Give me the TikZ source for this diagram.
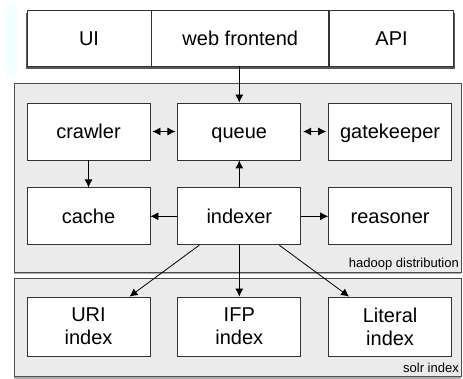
\documentclass[tikz,border=0pt]{standalone}
\usepackage{fontspec}
\setmainfont{Liberation Sans}
\usetikzlibrary{arrows.meta, positioning, shadows, backgrounds}
\definecolor{panelgray}{HTML}{EBEBEB}
\definecolor{lightcyan}{HTML}{F0FFFF}
\tikzstyle{block} = [rectangle, draw=black!80, fill=white, line width=0.8pt, minimum width=123pt, minimum height=57pt, text centered, inner sep=0pt, text height=14.5pt, text depth=0pt, font=\fontsize{20}{23}\selectfont]
\tikzstyle{idxblock} = [rectangle, draw=black!80, fill=white, line width=0.8pt, minimum width=123pt, minimum height=59pt, align=center, inner sep=0pt, font=\fontsize{20}{23}\selectfont]
\tikzstyle{cell} = [block, minimum height=56pt]
\tikzstyle{panel} = [draw=black!70, fill=panelgray, line width=0.8pt, drop shadow={shadow xshift=-0.5pt, shadow yshift=-2.5pt, fill=black!65}]
\tikzstyle{tag} = [font=\fontsize{13}{15}\selectfont, inner sep=0pt]
\tikzstyle{connector} = [draw, line width=0.8pt, -{Latex[length=8pt, width=8pt]}]
\tikzstyle{biconnector} = [draw, line width=0.8pt, {Latex[length=8pt, width=8pt]}-{Latex[length=8pt, width=8pt]}]

\begin{document}
\begin{tikzpicture}[x=1pt, y=-1pt, node distance=27pt and 27pt]
    \useasboundingbox (0,0) rectangle (463,379);
    \fill [lightcyan] (6,4) rectangle (17,77);

    % Panels
    \draw [panel] (14,83) rectangle (461,272);
    \draw [panel] (14,278) rectangle (461,376);
    \node [tag, anchor=base east] (hadoop) at (459,268) {hadoop distribution};
    \node [tag, anchor=base east] (solr) at (459,372.5) {solr index};

    % Front end bar
    \node [cell, minimum width=124pt] (ui) at (89,38) {UI};
    \node [cell, minimum width=177pt, right=0pt of ui] (web) {web frontend};
    \node [cell, minimum width=124pt, right=0pt of web] (api) {API};
    \begin{scope}[on background layer]
        \fill [black!65] ([shift={(-0.5pt,-3pt)}]ui.north west) rectangle ([shift={(0.5pt,-3pt)}]api.south east);
    \end{scope}

    % Nodes
    \node [block] (crawler) at (88.5,131.5) {crawler};
    \node [block, right=of crawler] (queue) {queue};
    \node [block, right=of queue] (gatekeeper) {gatekeeper};
    \node [block, below=of crawler] (cache) {cache};
    \node [block, right=of cache] (indexer) {indexer};
    \node [block, right=of indexer] (reasoner) {reasoner};
    \node [idxblock] (uri) at (88.5,326.5) {URI\\index};
    \node [idxblock, right=of uri] (ifp) {IFP\\index};
    \node [idxblock, right=of ifp] (literal) {Literal\\index};

    % Arrows
    \path [connector] (web.south -| queue.north) -- (queue.north);
    \path [biconnector] ([xshift=2pt]crawler.east) -- ([xshift=-2pt]queue.west);
    \path [biconnector] ([xshift=2pt]queue.east) -- ([xshift=-2pt]gatekeeper.west);
    \path [connector] (crawler) -- (cache);
    \path [connector] (indexer) -- (queue);
    \path [connector] (indexer) -- (cache);
    \path [connector] (indexer) -- (reasoner);
    \path [connector] ([xshift=-40pt]indexer.south) -- ([xshift=41pt]uri.north);
    \path [connector] (indexer) -- (ifp);
    \path [connector] ([xshift=40pt]indexer.south) -- ([xshift=-41pt]literal.north);
\end{tikzpicture}
\end{document}
